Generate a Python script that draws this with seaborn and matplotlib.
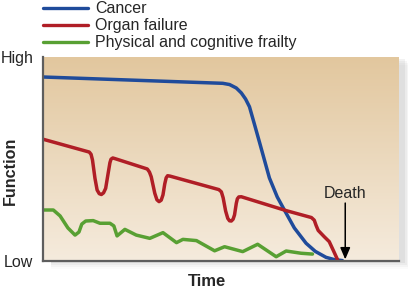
import numpy as np
import pandas as pd
import matplotlib
matplotlib.use("Agg")
import matplotlib.pyplot as plt
import seaborn as sns
from matplotlib.colors import LinearSegmentedColormap
from matplotlib.lines import Line2D
from matplotlib.patches import Rectangle

# ---------------- data ----------------
series_names = ["Cancer", "Organ failure", "Physical and cognitive frailty"]
series_colors = ["#1f4b9b", "#b01e26", "#58a033"]

cancer_time = [0, 50.5, 52.4, 54.3, 55.7, 56.9, 58.0, 59.4, 60.8, 62.2, 63.6,
               65.8, 67.8, 70.6, 73.9, 76.5, 79.5, 81.8, 84.1]
cancer_function = [90.2, 87.1, 86.5, 84.8, 82.4, 79.4, 75.6, 67.0, 58.3, 49.5,
                   40.7, 31.4, 25.0, 16.2, 8.7, 4.7, 1.8, 0.7, 0.2]

organ_time = [0, 13.0, 13.5, 13.9, 14.6, 15.2, 15.8, 16.4, 17.0, 17.6, 18.3,
              18.8, 19.1, 19.6, 20.2,
              29.3, 29.9, 30.4, 31.4, 32.0, 32.6, 33.2, 33.7, 34.2, 34.6,
              35.0, 35.7,
              49.4, 50.1, 50.6, 51.3, 51.9, 52.4, 52.9, 53.4, 53.8, 54.3,
              54.6, 55.0, 55.7,
              68.3, 75.4, 76.2, 76.7, 77.3, 79.0, 80.4, 81.6, 82.7]
organ_function = [59.7, 53.4, 52.3, 49.5, 40.5, 34.8, 33.0, 32.6, 33.4, 35.6,
                  43.0, 48.2, 49.9, 50.5, 50.2,
                  45.1, 43.6, 41.3, 33.2, 30.0, 29.1, 29.8, 32.4, 37.8, 40.8,
                  41.8, 41.6,
                  35.0, 33.9, 31.0, 24.5, 20.9, 19.7, 19.6, 20.5, 22.6, 28.3,
                  30.5, 31.4, 31.5,
                  24.7, 21.3, 20.0, 17.5, 15.0, 11.9, 9.5, 5.0, 0.8]

frailty_time = [0, 2.9, 4.8, 7.0, 9.0, 10.1, 10.9, 12.0, 14.1, 16.0, 18.8,
                19.9, 20.8, 23.0, 26.2, 30.0, 33.7, 37.5, 39.3, 43.1, 48.2,
                51.0, 56.1, 60.3, 65.5, 68.3, 72.5, 75.7]
frailty_function = [25.0, 25.0, 22.1, 16.2, 12.7, 14.2, 18.1, 19.6, 19.8, 18.5,
                    18.5, 17.2, 12.3, 15.5, 12.7, 11.1, 13.9, 9.0, 10.6, 10.0,
                    5.0, 7.0, 4.6, 8.2, 2.1, 4.9, 3.8, 3.4]

y_tick_values = [0, 100]
y_tick_labels = ["Low", "High"]
death_time = 84.9
death_label_y = 33.3
death_arrow_top = 28.4
death_arrow_bottom = 0.8

# ---------------- build table ----------------
frames = []
for name, t, f in [(series_names[0], cancer_time, cancer_function),
                   (series_names[1], organ_time, organ_function),
                   (series_names[2], frailty_time, frailty_function)]:
    frames.append(pd.DataFrame({"Time": t, "Function": f, "series": name}))
df = pd.concat(frames, ignore_index=True)

FONT = ["Liberation Sans", "DejaVu Sans"]
sns.set_style("white")
plt.rcParams["font.family"] = FONT

W, H = 408, 291
fig = plt.figure(figsize=(W / 100, H / 100), dpi=100)
fig.patch.set_facecolor("white")

L, R, T, B = 43, 399, 57, 261
ax = fig.add_axes([L / W, 1 - B / H, (R - L) / W, (B - T) / H])

# drop shadow (right and below)
for i, a in enumerate([0.10, 0.07, 0.05, 0.03]):
    off = 2 + i * 2
    fig.add_artist(Rectangle(((L + 8) / W, 1 - (B + off) / H),
                             (R - L - 4 + off) / W, (B - T) / H,
                             transform=fig.transFigure, facecolor="#808080",
                             edgecolor="none", alpha=a, zorder=-1))

# gradient background
cmap = LinearSegmentedColormap.from_list("bg", ["#f5ebdd", "#e2c79e"])
grad = np.linspace(0, 1, 256).reshape(-1, 1)
ax.imshow(grad, extent=[0, 100, 0, 100], origin="lower", aspect="auto",
          cmap=cmap, zorder=0)

sns.lineplot(data=df, x="Time", y="Function", hue="series",
             hue_order=series_names, palette=series_colors, sort=False,
             estimator=None, units="series", legend=False, ax=ax,
             linewidth=2.5, solid_capstyle="round", solid_joinstyle="round",
             zorder=3)

ax.set_xlim(0, 100)
ax.set_ylim(0, 100)
ax.set_xticks([])
ax.set_yticks(y_tick_values)
ax.set_yticklabels(y_tick_labels, fontsize=11.5)
ax.tick_params(axis="y", length=0, pad=7)
for s in ["top", "right"]:
    ax.spines[s].set_visible(False)
for s in ["left", "bottom"]:
    ax.spines[s].set_color("#5e5e5e")
    ax.spines[s].set_linewidth(1.6)
    ax.spines[s].set_zorder(5)

ax.set_xlabel("")
ax.set_ylabel("")
fig.text(207 / W, 1 - 281 / H, "Time", fontsize=12, fontweight="bold",
         ha="center", va="center")
fig.text(10 / W, 1 - 171 / H, "Function", fontsize=11.6, fontweight="bold",
         ha="center", va="center", rotation=90)

# Death marker
ax.text(death_time, death_label_y, "Death", fontsize=11.5, ha="center",
        va="center", zorder=6)
ax.annotate("", xy=(death_time, death_arrow_bottom),
            xytext=(death_time, death_arrow_top),
            arrowprops=dict(arrowstyle="-|>,head_length=0.7,head_width=0.3",
                            color="black", lw=1.1, shrinkA=0, shrinkB=0),
            zorder=6)

# legend (manual)
for i, (name, col) in enumerate(zip(series_names, series_colors)):
    yy = 1 - (8.3 + 17 * i) / H
    fig.add_artist(Line2D([43 / W, 88 / W], [yy, yy], color=col, lw=2.4,
                          transform=fig.transFigure))
    fig.text(95 / W, yy, name, fontsize=11.5, ha="left", va="center")

fig.savefig("out.png", dpi=100)
